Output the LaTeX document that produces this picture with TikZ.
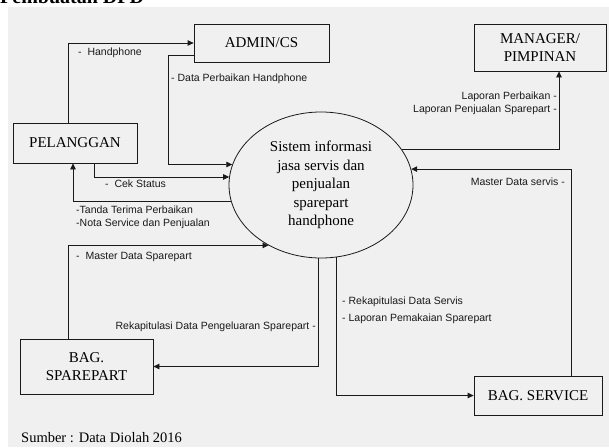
\documentclass[tikz,border=0pt]{standalone}
\usepackage{fontspec}
\setmainfont{Liberation Serif}
\newfontfamily\lblfont{Liberation Sans}
\usetikzlibrary{arrows.meta,shapes.geometric}
\definecolor{bgc}{HTML}{F0F0F0}
\definecolor{linec}{HTML}{1A1A1A}
\begin{document}
\begin{tikzpicture}[x=1pt,y=-1pt,
  box/.style={draw=linec, line width=0.8pt, fill=bgc, inner sep=0pt, align=center, font=\fontsize{15}{18}\selectfont},
  proc/.style={draw=linec, ellipse, line width=0.8pt, inner sep=0pt, minimum width=184pt, minimum height=146pt, align=center, font=\fontsize{15}{18.5}\selectfont},
  flow/.style={draw=linec, line width=0.8pt, -{Triangle[length=6pt,width=5.5pt]}},
  lbl/.style={font=\lblfont\fontsize{10.5}{13}\selectfont, inner sep=0pt, text=linec},
]
\useasboundingbox (0,0) rectangle (609,447);
\fill[bgc] (8,7) rectangle (609,447);
\node[anchor=base west, font=\bfseries\fontsize{20}{24}\selectfont, inner sep=0pt] (title) at (0,3) {Pembuatan DFD};

\node[box, minimum width=135pt, minimum height=38pt] (adm) at (261.5,43) {ADMIN/CS};
\node[box, minimum width=132pt, minimum height=47pt] (mgr) at (540,47.5) {MANAGER/\\PIMPINAN};
\node[box, minimum width=124pt, minimum height=40pt] (pel) at (75,143) {PELANGGAN};
\node[proc] (sys) at (321,185) {Sistem informasi\\jasa servis dan\\penjualan\\sparepart\\handphone};
\node[box, minimum width=133pt, minimum height=55pt] (spr) at (86.5,366.5) {BAG.\\SPAREPART};
\node[box, minimum width=128pt, minimum height=39pt] (svc) at (538,395.5) {BAG. SERVICE};

\draw[flow] ([xshift=-7pt]pel.north) |- (adm.west);
\draw[flow] ([yshift=7pt]adm.south west) -- ++(-25,0) |- (sys.167);
\draw[flow] ([xshift=19pt]pel.south) |- (sys.175);
\draw[flow] (sys.190) -| ([xshift=-2pt]pel.south);
\draw[flow] (sys.24) -| ([xshift=19pt]mgr.south);
\draw[flow] ([xshift=33pt]svc.north) |- (sys.10);
\draw[flow] ([xshift=-18.5pt]spr.north) |- (sys.229);
\draw[flow] (sys.268) |- (spr.east);
\draw[flow] (sys.282) |- (svc.west);

\node[lbl, anchor=west] (l1) at (78,53) {-\ \ Handphone};
\node[lbl, anchor=west] (l2) at (171,79) {- Data Perbaikan Handphone};
\node[lbl, anchor=east] (l3) at (557,97) {Laporan Perbaikan -};
\node[lbl, anchor=east] (l4) at (557,110) {Laporan Penjualan Sparepart -};
\node[lbl, anchor=west] (l5) at (105,184) {-\ \ Cek Status};
\node[lbl, anchor=west] (l6) at (76,210) {-Tanda Terima Perbaikan};
\node[lbl, anchor=west] (l7) at (76,224) {-Nota Service dan Penjualan};
\node[lbl, anchor=east] (l8) at (565,182) {Master Data servis -};
\node[lbl, anchor=west] (l9) at (76,257) {-\ \ Master Data Sparepart};
\node[lbl, anchor=east] (l10) at (316,327) {Rekapitulasi Data Pengeluaran Sparepart -};
\node[lbl, anchor=west] (l11) at (342,302) {- Rekapitulasi Data Servis};
\node[lbl, anchor=west] (l12) at (342,319) {- Laporan Pemakaian Sparepart};
\node[anchor=west, inner sep=0pt, font=\fontsize{14.5}{17}\selectfont] (src) at (21,438) {Sumber : Data Diolah 2016};
\end{tikzpicture}
\end{document}
